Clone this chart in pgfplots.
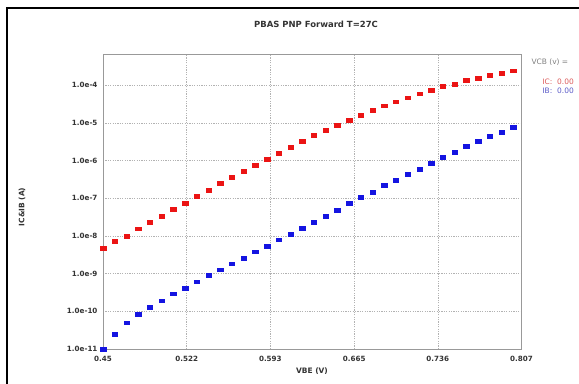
\documentclass[border=0pt]{standalone}
\usepackage{fontspec}
\setmainfont{DejaVu Sans}
\usepackage{pgfplots}
\pgfplotsset{compat=1.18}
\definecolor{icred}{RGB}{235,20,20}
\definecolor{ibblue}{RGB}{20,20,225}
\definecolor{lred}{RGB}{220,90,90}
\definecolor{lblue}{RGB}{90,90,200}
\begin{document}
\begin{tikzpicture}[x=1bp,y=1bp]
\useasboundingbox (0,0) rectangle (579,383);
\fill[white] (0,0) rectangle (579,383);
\draw[line width=1.4bp] (7,-20) -- (7,375) -- (600,375);
\node[font=\bfseries\fontsize{8.5}{9}\selectfont, text=black!80] at (316,359) {PBAS PNP Forward T=27C};
\node[rotate=90, font=\fontsize{7.5}{8}\selectfont\bfseries, text=black!80] at (22,176) {IC\&IB (A)};
\node[font=\fontsize{7.5}{8}\selectfont\bfseries, text=black!80] at (312,12) {VBE (V)};
\node[anchor=west, font=\fontsize{7.5}{8}\selectfont, text=black!50] at (528,321) {VCB (v) =};
\node[anchor=west, font=\fontsize{7.5}{8}\selectfont, text=lred] at (539,301) {IC:\ \ 0.00};
\node[anchor=west, font=\fontsize{7.5}{8}\selectfont, text=lblue] at (539,292) {IB:\ \ 0.00};
\begin{axis}[
  at={(103bp,34bp)}, anchor=south west, scale only axis,
  width=418.5bp, height=295bp,
  xmin=0.45, xmax=0.8071,
  ymode=log, ymin=1e-11, ymax=6.67e-4,
  axis line style={draw=black!40, line width=0.9bp},
  major tick length=0pt, minor tick length=0pt,
  xtick={0.45,0.5214,0.5928,0.6643,0.7357,0.8071},
  xticklabels={0.45,0.522,0.593,0.665,0.736,0.807},
  ytick={1e-11,1e-10,1e-9,1e-8,1e-7,1e-6,1e-5,1e-4},
  yticklabels={1.0e-11,1.0e-10,1.0e-9,1.0e-8,1.0e-7,1.0e-6,1.0e-5,1.0e-4},
  yminorticks=false,
  ticklabel style={font=\fontsize{7.2}{8}\selectfont\bfseries, text=black!80},
  xticklabel style={yshift=-4bp},
  yticklabel style={xshift=-2bp},
  grid=major,
  major grid style={draw=black!30, dash pattern=on 1.2bp off 1.2bp, line width=0.5bp},
  clip=false,
]
\addplot[only marks, mark=square*, mark size=2.7bp, mark options={yscale=0.7, fill=icred, draw=icred}] coordinates {
(0.45,4.8e-9) (0.46,7.2e-9) (0.47,1.0e-8) (0.48,1.56e-8) (0.49,2.33e-8)
(0.50,3.37e-8) (0.51,5.08e-8) (0.52,7.46e-8) (0.53,1.12e-7) (0.54,1.65e-7)
(0.55,2.44e-7) (0.56,3.6e-7) (0.57,5.1e-7) (0.58,7.5e-7) (0.59,1.10e-6)
(0.60,1.59e-6) (0.61,2.30e-6) (0.62,3.25e-6) (0.63,4.6e-6) (0.64,6.4e-6)
(0.65,8.5e-6) (0.66,1.17e-5) (0.67,1.60e-5) (0.68,2.13e-5) (0.69,2.82e-5)
(0.70,3.6e-5) (0.71,4.6e-5) (0.72,5.9e-5) (0.73,7.4e-5) (0.74,9.2e-5)
(0.75,1.08e-4) (0.76,1.33e-4) (0.77,1.51e-4) (0.78,1.81e-4) (0.79,2.08e-4)
(0.80,2.40e-4)
};
\addplot[only marks, mark=square*, mark size=2.7bp, mark options={yscale=0.7, fill=ibblue, draw=ibblue}] coordinates {
(0.45,1.0e-11) (0.46,2.53e-11) (0.47,4.96e-11) (0.48,8.2e-11) (0.49,1.26e-10)
(0.50,1.92e-10) (0.51,2.92e-10) (0.52,4.05e-10) (0.53,6.1e-10) (0.54,8.95e-10)
(0.55,1.27e-9) (0.56,1.83e-9) (0.57,2.58e-9) (0.58,3.82e-9) (0.59,5.38e-9)
(0.60,7.96e-9) (0.61,1.12e-8) (0.62,1.62e-8) (0.63,2.29e-8) (0.64,3.37e-8)
(0.65,4.78e-8) (0.66,7.2e-8) (0.67,1.04e-7) (0.68,1.46e-7) (0.69,2.16e-7)
(0.70,3.05e-7) (0.71,4.24e-7) (0.72,5.97e-7) (0.73,8.47e-7) (0.74,1.20e-6)
(0.75,1.69e-6) (0.76,2.35e-6) (0.77,3.19e-6) (0.78,4.34e-6) (0.79,5.64e-6)
(0.80,7.5e-6)
};
\end{axis}
\end{tikzpicture}
\end{document}
